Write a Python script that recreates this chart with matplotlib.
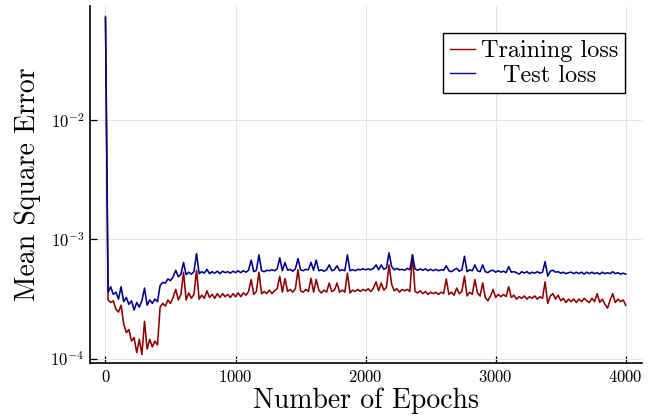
import numpy as np
import matplotlib
matplotlib.use("Agg")
import matplotlib.pyplot as plt

plt.rcParams['font.family'] = ['cmr10', 'DejaVu Serif']
plt.rcParams['mathtext.fontset'] = 'cm'
plt.rcParams['axes.formatter.use_mathtext'] = True

### Data (MSE in units of 1e-4, one value every 20 epochs)
epochs = np.arange(0, 4001, 20)

train_loss = [
    740, 3.1, 2.95, 3.05, 2.6, 2.45, 2.8, 1.95, 1.65, 1.75,      # 0-180
    1.4, 1.5, 1.12, 1.45, 1.08, 2.05, 1.2, 1.45, 1.25, 1.4,      # 200-380
    1.3, 2.7, 2.9, 2.75, 3.1, 2.9, 3.25, 3.8, 3.1, 3.45,         # 400-580
    5.3, 3.1, 3.55, 3.2, 3.45, 5.5, 3.15, 3.4, 3.2, 3.7,         # 600-780
    3.25, 3.45, 3.2, 3.5, 3.25, 3.5, 3.3, 3.45, 3.25, 3.5,       # 800-980
    3.3, 3.55, 3.3, 3.55, 3.4, 3.65, 4.6, 3.45, 3.65, 5.3,       # 1000-1180
    3.5, 3.65, 3.5, 3.75, 3.5, 3.7, 3.85, 4.9, 3.6, 4.7,         # 1200-1380
    3.65, 3.8, 3.6, 3.85, 5.55, 3.7, 3.6, 3.8, 3.65, 4.7,        # 1400-1580
    3.6, 4.6, 3.75, 3.55, 3.75, 3.6, 4.3, 3.65, 3.75, 4.3,       # 1600-1780
    3.6, 3.75, 3.6, 5.2, 3.55, 3.75, 3.65, 3.8, 3.65, 3.8,       # 1800-1980
    3.7, 3.85, 3.65, 3.9, 4.4, 3.7, 4.3, 3.75, 3.95, 6.1,        # 2000-2180
    4.2, 3.7, 3.85, 3.6, 3.8, 3.7, 3.8, 3.65, 7.4, 3.65,         # 2200-2380
    3.55, 3.7, 3.5, 3.65, 3.45, 3.6, 3.5, 3.6, 3.45, 3.6,        # 2400-2580
    3.5, 4.65, 3.45, 3.6, 3.4, 3.9, 3.5, 3.65, 4.9, 3.35,        # 2600-2780
    3.6, 3.45, 4.6, 3.55, 3.35, 4.3, 3.25, 3.05, 3.35, 3.8,      # 2800-2980
    3.25, 3.45, 3.3, 3.45, 3.3, 4.0, 3.25, 3.4, 3.15, 3.3,       # 3000-3180
    3.2, 3.35, 3.15, 3.3, 3.2, 3.35, 3.15, 3.3, 3.2, 4.4,        # 3200-3380
    2.9, 3.35, 3.5, 3.15, 3.4, 3.05, 3.2, 2.95, 3.15, 3.0,       # 3400-3580
    3.15, 2.95, 3.15, 3.0, 3.2, 3.05, 2.95, 3.2, 3.0, 3.5,       # 3600-3780
    2.95, 3.15, 2.85, 2.65, 3.1, 3.5, 2.95, 3.15, 3.0, 3.1,      # 3800-3980
    2.8,                                                          # 4000
]

test_loss = [
    720, 3.6, 4.0, 3.45, 3.6, 3.15, 4.0, 3.0, 3.25, 2.85,        # 0-180
    3.05, 2.55, 2.95, 2.7, 3.05, 3.9, 2.8, 3.1, 2.9, 3.15,       # 200-380
    3.0, 4.1, 4.35, 4.3, 4.65, 4.5, 4.85, 5.5, 4.85, 5.1,        # 400-580
    6.4, 5.05, 5.3, 5.1, 5.35, 7.6, 5.15, 5.35, 5.2, 5.6,        # 600-780
    5.15, 5.35, 5.2, 5.4, 5.15, 5.4, 5.25, 5.35, 5.2, 5.4,       # 800-980
    5.25, 5.45, 5.25, 5.45, 5.3, 5.5, 6.7, 5.35, 5.5, 7.4,       # 1000-1180
    5.45, 5.35, 5.5, 5.45, 5.55, 5.45, 5.65, 7.0, 5.45, 6.4,     # 1200-1380
    5.5, 5.6, 5.4, 5.65, 6.9, 5.55, 5.45, 5.6, 5.55, 6.4,        # 1400-1580
    5.5, 6.7, 5.45, 5.55, 5.4, 5.55, 6.1, 5.45, 5.55, 6.0,       # 1600-1780
    5.45, 5.55, 5.45, 7.4, 5.45, 5.55, 5.45, 5.6, 5.55, 5.65,    # 1800-1980
    5.55, 5.65, 5.55, 5.7, 6.1, 5.55, 6.1, 5.6, 5.75, 7.7,       # 2000-2180
    5.9, 5.55, 5.7, 5.55, 5.6, 5.5, 5.7, 5.55, 7.4, 5.65,        # 2200-2380
    5.5, 5.65, 5.5, 5.65, 5.45, 5.6, 5.45, 5.6, 5.45, 5.55,      # 2400-2580
    5.5, 6.0, 5.45, 5.35, 5.55, 5.7, 5.4, 5.55, 7.2, 5.35,       # 2600-2780
    5.55, 5.45, 6.1, 5.45, 5.35, 6.1, 5.35, 5.25, 5.45, 5.5,     # 2800-2980
    5.3, 5.45, 5.3, 5.4, 5.25, 5.9, 5.3, 5.35, 5.25, 5.1,        # 3000-3180
    5.35, 5.2, 5.35, 5.15, 5.3, 5.2, 5.35, 5.2, 5.3, 6.5,        # 3200-3380
    4.9, 5.4, 5.5, 5.3, 5.35, 5.2, 5.3, 5.15, 5.25, 5.3,         # 3400-3580
    5.15, 5.3, 5.15, 5.3, 5.1, 5.3, 5.15, 5.3, 5.15, 5.25,       # 3600-3780
    5.1, 5.3, 5.15, 5.25, 5.15, 5.35, 5.15, 5.25, 5.1, 5.2,      # 3800-3980
    5.1,                                                          # 4000
]

xticks = [0, 1000, 2000, 3000, 4000]
yticks = [1e-4, 1e-3, 1e-2]

### Figure
fig = plt.figure(figsize=(6.57, 4.16), dpi=100)
ax = fig.add_axes([0.137, 0.1274, 0.840, 0.8582])

ax.plot(epochs, np.array(train_loss) * 1e-4, color='#8b0000', lw=1.15, label='Training loss')
ax.plot(epochs, np.array(test_loss) * 1e-4, color='#00008b', lw=1.15, label='Test loss')

ax.set_yscale('log')
ax.set_xlim(-119, 4124)
ax.set_ylim(9.17e-5, 0.0906)
ax.set_xticks(xticks)
ax.set_yticks(yticks)
ax.minorticks_off()

ax.grid(True, color='#e4e4e4', lw=0.7)
ax.set_axisbelow(True)
for s in ['top', 'right']:
    ax.spines[s].set_visible(False)
for s in ['left', 'bottom']:
    ax.spines[s].set_linewidth(1.2)
ax.tick_params(direction='in', length=5, width=0.9, labelsize=12, pad=4)

ax.set_xlabel('Number of Epochs', fontsize=20, labelpad=2)
ax.set_ylabel('Mean Square Error', fontsize=20, labelpad=7)

leg = ax.legend(loc='upper right', bbox_to_anchor=(0.969, 0.924), borderaxespad=0,
                fontsize=17.5, fancybox=False, framealpha=1, edgecolor='black',
                handlelength=1.0, handletextpad=0.25, borderpad=0.28, labelspacing=0.1)
leg.get_frame().set_linewidth(1.0)
for line in leg.get_lines():
    line.set_linewidth(1.0)

# centre the shorter legend label like the original
fig.canvas.draw()
t0, t1 = leg.get_texts()
dw = t0.get_window_extent().width - t1.get_window_extent().width
t1.set_x(dw / 2)

fig.savefig('out.png', dpi=100)
